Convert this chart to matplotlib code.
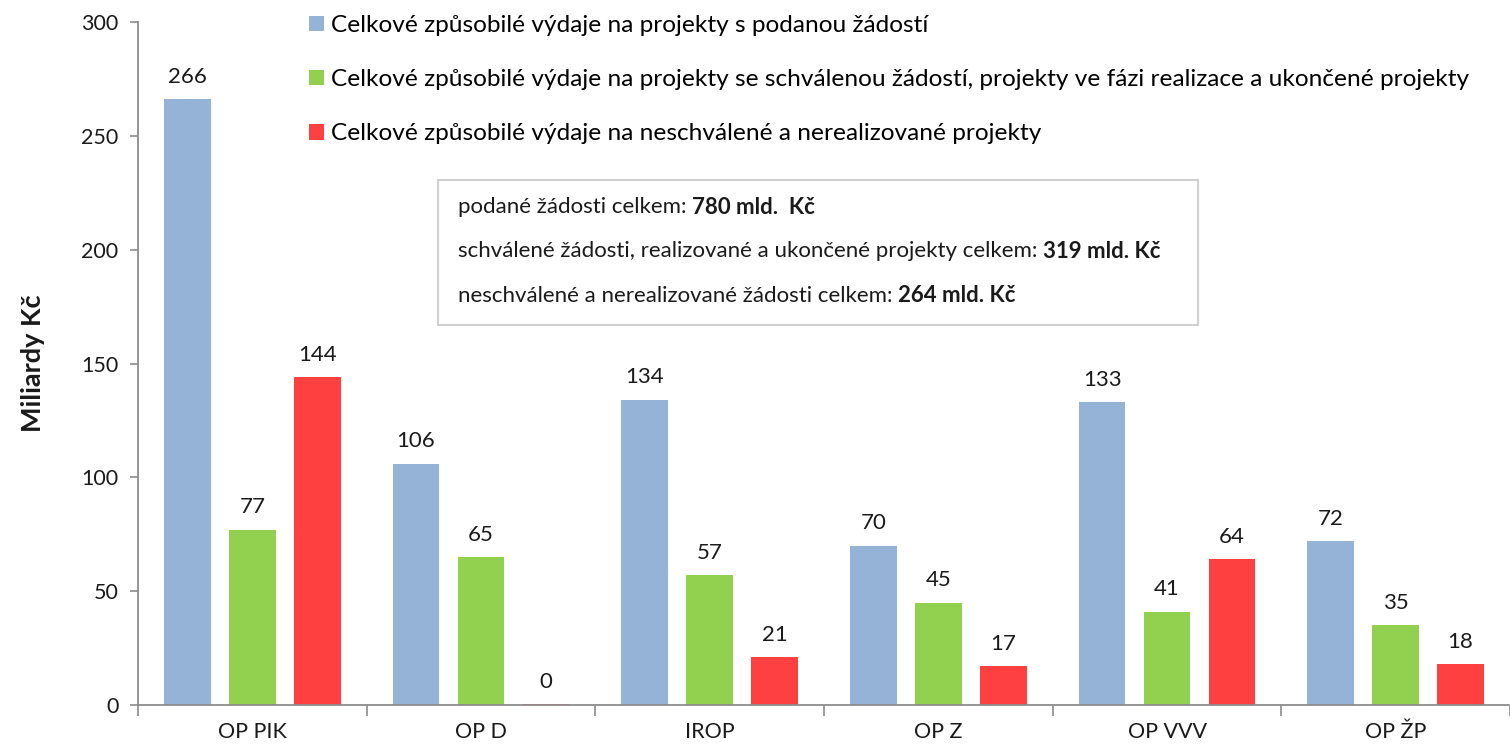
import matplotlib; matplotlib.use("Agg")
import matplotlib.pyplot as plt
import numpy as np
from matplotlib.patches import Rectangle

plt.rcParams["font.family"] = ["Lato", "DejaVu Sans"]

CATS = ["OP PIK", "OP D", "IROP", "OP Z", "OP VVV", "OP ŽP"]
PODANE = [266, 106, 134, 70, 133, 72]
SCHVALENE = [77, 65, 57, 45, 41, 35]
NESCHVALENE = [144, 0.4, 21, 17, 64, 18]
LABELS = [
    "Celkové způsobilé výdaje na projekty s podanou žádostí",
    "Celkové způsobilé výdaje na projekty se schválenou žádostí, projekty ve fázi realizace a ukončené projekty",
    "Celkové způsobilé výdaje na neschválené a nerealizované projekty",
]
BOX_LINES = [
    ("podané žádosti celkem: ", "780 mld.  Kč"),
    ("schválené žádosti, realizované a ukončené projekty celkem: ", "319 mld. Kč"),
    ("neschválené a nerealizované žádosti celkem: ", "264 mld. Kč"),
]
COLORS = ["#95B3D7", "#92D050", "#FF4040"]
INK = "#1a1a1a"; AXC = "#8c8c8c"

W, H = 1510, 748
fig = plt.figure(figsize=(W/100, H/100), dpi=100)
ax = fig.add_axes([138/W, 1-705/H, 1-138/W, (705-22)/H])

x = np.arange(len(CATS))
off = 0.284; bw = 0.205
for k, (vals, col) in enumerate(zip([PODANE, SCHVALENE, NESCHVALENE], COLORS)):
    bars = ax.bar(x + (k-1)*off, vals, bw, color=col, label=LABELS[k], zorder=2)
    for b, v in zip(bars, vals):
        ax.annotate(f"{v:.0f}", (b.get_x()+b.get_width()/2, b.get_height()),
                    xytext=(0, 9), textcoords="offset points", ha="center", va="bottom",
                    fontsize=16, color=INK)

ax.set_xlim(-0.5, len(CATS)-0.5)
ax.set_ylim(0, 300)
ax.set_yticks(range(0, 301, 50))
ax.set_xticks(x)
ax.set_xticklabels(CATS)
ax.set_xticks(np.arange(-0.5, len(CATS)), minor=True)
ax.tick_params(axis="x", which="major", length=0, pad=12, labelsize=15.5, labelcolor=INK)
ax.tick_params(axis="x", which="minor", length=8, color=AXC, width=1.2)
ax.tick_params(axis="y", length=6, color=AXC, width=1.2, pad=8, labelsize=15.5, labelcolor=INK)
for s in ["top", "right"]:
    ax.spines[s].set_visible(False)
for s in ["left", "bottom"]:
    ax.spines[s].set_color(AXC); ax.spines[s].set_linewidth(1.3)
ax.set_ylabel("Miliardy Kč", fontsize=19.5, fontweight="bold", color=INK, labelpad=26)

ax.legend(loc="upper left", bbox_to_anchor=(309/W, 1-15/H), bbox_transform=fig.transFigure,
          frameon=False, fontsize=17.6, handlelength=0.6, handleheight=0.6,
          handletextpad=0.3, labelspacing=1.36, borderaxespad=0, borderpad=0)

# summary box
fig.patches.append(Rectangle((438/W, 1-325/H), (1198-438)/W, (325-180)/H,
                             transform=fig.transFigure, facecolor="white",
                             edgecolor="#d0d0d0", lw=1.5, zorder=3))
fig.canvas.draw()
r = fig.canvas.get_renderer()
for i, (norm, bold) in enumerate(BOX_LINES):
    y = 1 - (207 + i*44.5)/H
    t = fig.text(458/W, y, norm, ha="left", va="center", fontsize=16, color=INK, zorder=4)
    bb = t.get_window_extent(renderer=r)
    fig.text(bb.x1/W, y, bold, ha="left", va="center", fontsize=16,
             fontweight="bold", color=INK, zorder=4)

fig.savefig("out.png", dpi=100, facecolor="white")
